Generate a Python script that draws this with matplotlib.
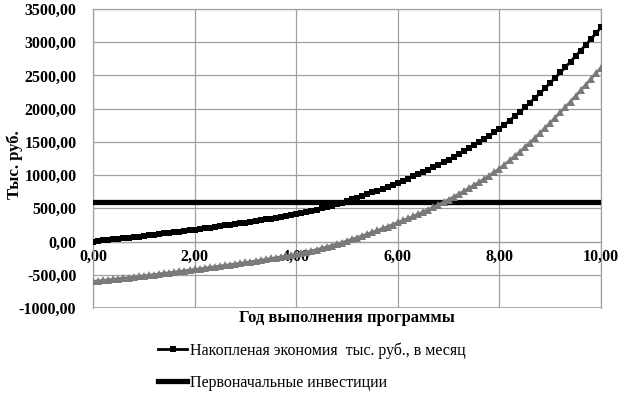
import numpy as np
import matplotlib
matplotlib.use("Agg")
from matplotlib import pyplot as plt
from matplotlib.ticker import FuncFormatter, MultipleLocator

# years 0..10, step 0.1
years = [i / 10 for i in range(101)]

savings = [
    0, 8, 16, 24, 33, 41, 50, 58, 67, 76,
    85, 94, 103, 113, 122, 132, 141, 151, 160, 170,
    180, 190, 200, 211, 221, 232, 242, 253, 263, 274,
    285, 296, 308, 320, 332, 345, 357, 370, 383, 396,
    410, 426, 443, 461, 479, 498, 518, 539, 561, 585,
    610, 635, 660, 686, 713, 740, 768, 797, 826, 856,
    887, 917, 948, 980, 1013, 1047, 1082, 1118, 1155, 1193,
    1232, 1273, 1315, 1358, 1402, 1447, 1494, 1542, 1592, 1644,
    1698, 1758, 1820, 1884, 1950, 2018, 2088, 2160, 2234, 2310,
    2388, 2466, 2545, 2625, 2707, 2790, 2874, 2960, 3046, 3134,
    3222,
]

net = [
    -600, -592, -584, -576, -567, -559, -550, -542, -533, -524,
    -515, -506, -497, -487, -478, -468, -459, -449, -440, -430,
    -420, -410, -400, -389, -379, -368, -358, -347, -337, -326,
    -315, -304, -292, -280, -268, -255, -243, -230, -217, -204,
    -190, -174, -157, -139, -121, -102, -82, -61, -39, -15,
    10, 35, 60, 86, 113, 140, 168, 197, 226, 256,
    287, 317, 348, 380, 413, 447, 482, 518, 555, 593,
    632, 673, 715, 758, 802, 847, 894, 942, 992, 1044,
    1098, 1158, 1220, 1284, 1350, 1418, 1488, 1560, 1634, 1710,
    1788, 1866, 1945, 2025, 2107, 2190, 2274, 2360, 2446, 2534,
    2615,
]

invest = [600] * len(years)

label_savings = "Накопленая экономия  тыс. руб., в месяц"
label_invest = "Первоначальные инвестиции"

plt.rcParams['font.family'] = ['Liberation Serif', 'DejaVu Serif']

fig = plt.figure(figsize=(6.23, 3.98), dpi=100)
ax = fig.add_axes([93 / 623, 1 - 308 / 398, 508 / 623, 299 / 398])

ax.plot(years, invest, color="black", lw=3.8, label=label_invest, zorder=3)
ax.plot(years, net, color="#7a7a7a", lw=2, marker="^", ms=6,
        markeredgewidth=0, zorder=4)
ax.plot(years, savings, color="black", lw=2, marker="s", ms=4,
        markeredgewidth=0, label=label_savings, zorder=5)

ax.set_xlim(0, 10)
ax.set_ylim(-1000, 3500)
ax.xaxis.set_major_locator(MultipleLocator(2))
ax.yaxis.set_major_locator(MultipleLocator(500))
fmt = FuncFormatter(lambda v, p: f"{v:.2f}".replace(".", ","))
ax.xaxis.set_major_formatter(fmt)
ax.yaxis.set_major_formatter(fmt)

ax.grid(True, color="#a0a0a0", lw=0.9)
ax.set_axisbelow(True)
ax.spines['bottom'].set_position(('data', 0))
for s in ax.spines.values():
    s.set_color("#a0a0a0")
    s.set_linewidth(0.9)
ax.axhline(-1000, color="#a0a0a0", lw=1.2, zorder=1)

ax.tick_params(length=0, labelsize=11.5)
ax.tick_params(axis='x', pad=5)
ax.tick_params(axis='y', pad=12)
for t in ax.get_xticklabels() + ax.get_yticklabels():
    t.set_fontweight("bold")

fig.text(15 / 623, 1 - 165 / 398, "Тыс. руб.", rotation=90, ha="center",
         va="center", fontsize=12, fontweight="bold")
fig.text(347 / 623, 1 - 318 / 398, "Год выполнения программы", ha="center",
         va="center", fontsize=12, fontweight="bold")

handles, labels = ax.get_legend_handles_labels()
fig.legend(handles[::-1], labels[::-1], loc="upper left",
           bbox_to_anchor=(152 / 623, 1 - 336 / 398), frameon=False,
           fontsize=11.5, labelspacing=1.0, handlelength=1.8, handletextpad=0.2,
           borderaxespad=0)

fig.savefig("out.png", dpi=100)
